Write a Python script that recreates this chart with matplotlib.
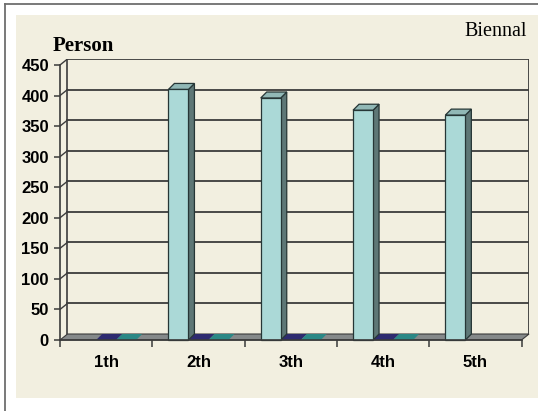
import matplotlib.pyplot as plt
from matplotlib.patches import Polygon, Rectangle
from matplotlib.lines import Line2D

# Data
categories = ['1th', '2th', '3th', '4th', '5th']
series_main = [None, 410, 396, 376, 368]   # light cyan columns
series_b = [0, 0, 0, 0, None]              # navy, all zero
series_c = [0, 0, 0, 0, None]              # teal, all zero
yticks = [0, 50, 100, 150, 200, 250, 300, 350, 400, 450]

W, H = 538, 411
fig = plt.figure(figsize=(W / 100, H / 100), dpi=100)
fig.patch.set_facecolor('white')

# outer frame + beige panel
fig.add_artist(Rectangle((16 / W, (H - 398) / H), (W - 16) / W, (398 - 15) / H,
                         transform=fig.transFigure, facecolor='#f2efe0',
                         edgecolor='none', zorder=0))
fig.add_artist(Line2D([5 / W, 1], [1 - 4 / H, 1 - 4 / H], transform=fig.transFigure,
                      color='#6e6e6e', lw=1.3))
fig.add_artist(Line2D([5 / W, 5 / W], [0, 1 - 4 / H], transform=fig.transFigure,
                      color='#6e6e6e', lw=1.3))

ax = fig.add_axes([60 / W, (H - 340) / H, 469 / W, 281 / H])
ax.set_facecolor('none')

# depth of the walls / columns in data units
dx, dy = 0.081, 9.8
bdx, bdy = 0.065, 9.8
ax.set_xlim(0.5, 5.5 + dx)
ax.set_ylim(0, 450 + dy)

grid_c = '#3c3c3c'
# back wall gridlines and side-wall diagonals
for v in yticks[1:]:
    ax.plot([0.5 + dx, 5.5 + dx], [v + dy, v + dy], color=grid_c, lw=1.3, zorder=1)
    ax.plot([0.5, 0.5 + dx], [v, v + dy], color=grid_c, lw=1.0, zorder=1)
ax.plot([0.5 + dx, 0.5 + dx], [dy, 450 + dy], color=grid_c, lw=1.2, zorder=1)
ax.plot([5.5 + dx, 5.5 + dx], [dy, 450 + dy], color=grid_c, lw=1.3, zorder=1)

# floor
floor = Polygon([(0.5, 0), (5.5, 0), (5.5 + dx, dy), (0.5 + dx, dy)],
                closed=True, facecolor='#85898a', edgecolor='#3a3a3a', lw=0.8,
                zorder=2, clip_on=False)
ax.add_patch(floor)


def shade(c, f):
    c = c.lstrip('#')
    r, g, b = (int(c[i:i + 2], 16) for i in (0, 2, 4))
    return '#%02x%02x%02x' % (int(r * f), int(g * f), int(b * f))


def column(x0, w, h, color, z):
    x1 = x0 + w
    edge = '#263636'
    front = Polygon([(x0, 0), (x1, 0), (x1, h), (x0, h)], closed=True,
                    facecolor=color, edgecolor=edge, lw=0.9, zorder=z, clip_on=False)
    side = Polygon([(x1, 0), (x1 + bdx, bdy), (x1 + bdx, h + bdy), (x1, h)], closed=True,
                   facecolor=shade(color, 0.55), edgecolor=edge, lw=0.9, zorder=z,
                   clip_on=False)
    top = Polygon([(x0, h), (x1, h), (x1 + bdx, h + bdy), (x0 + bdx, h + bdy)],
                  closed=True, facecolor=shade(color, 0.85), edgecolor=edge, lw=0.9,
                  zorder=z, clip_on=False)
    for p in (side, top, front):
        ax.add_patch(p)


bw = 0.217
series = [(series_main, '#abd9d7', -bw), (series_b, '#2e2b70', 0.0), (series_c, '#2b8886', bw)]
for i, cat in enumerate(categories):
    xc = i + 1
    for k, (vals, col, off) in enumerate(series):
        v = vals[i]
        if v is None:
            continue
        if v == 0:
            x0 = xc + off - bw / 2
            flat = Polygon([(x0, 0), (x0 + bw, 0), (x0 + bw + bdx, bdy), (x0 + bdx, bdy)],
                           closed=True, facecolor=col, edgecolor='none', zorder=3 + k,
                           clip_on=False)
            ax.add_patch(flat)
        else:
            column(xc + off - bw / 2, bw, v, col, 5 + (3 - k))

# axes
for s in ('top', 'right'):
    ax.spines[s].set_visible(False)
ax.spines['left'].set_bounds(0, 450)
ax.spines['bottom'].set_bounds(0.5, 5.5)
for s in ('left', 'bottom'):
    ax.spines[s].set_color('#3a3a3a')
    ax.spines[s].set_linewidth(1.2)
    ax.spines[s].set_zorder(10)

tick_font = dict(family='Liberation Sans', weight='bold', size=12)
ax.set_yticks(yticks)
ax.set_yticklabels([str(v) for v in yticks], **tick_font)
ax.tick_params(axis='y', length=4, width=1.1, color='#3a3a3a', pad=4)

ax.set_xticks([0.5, 1.5, 2.5, 3.5, 4.5, 5.5])
ax.set_xticklabels([])
ax.tick_params(axis='x', which='major', length=5, width=1.1, color='#3a3a3a')
ax.set_xticks([1, 2, 3, 4, 5], minor=True)
ax.set_xticklabels(categories, minor=True, **tick_font)
ax.tick_params(axis='x', which='minor', length=0, pad=11)

fig.text(53 / W, 1 - 46 / H, 'Person', family='Liberation Serif', weight='bold',
         size=15, va='center', ha='left')
fig.text(527 / W, 1 - 32 / H, 'Biennal', family='Liberation Serif', size=14.5,
         va='center', ha='right')

fig.savefig('out.png', dpi=100)
